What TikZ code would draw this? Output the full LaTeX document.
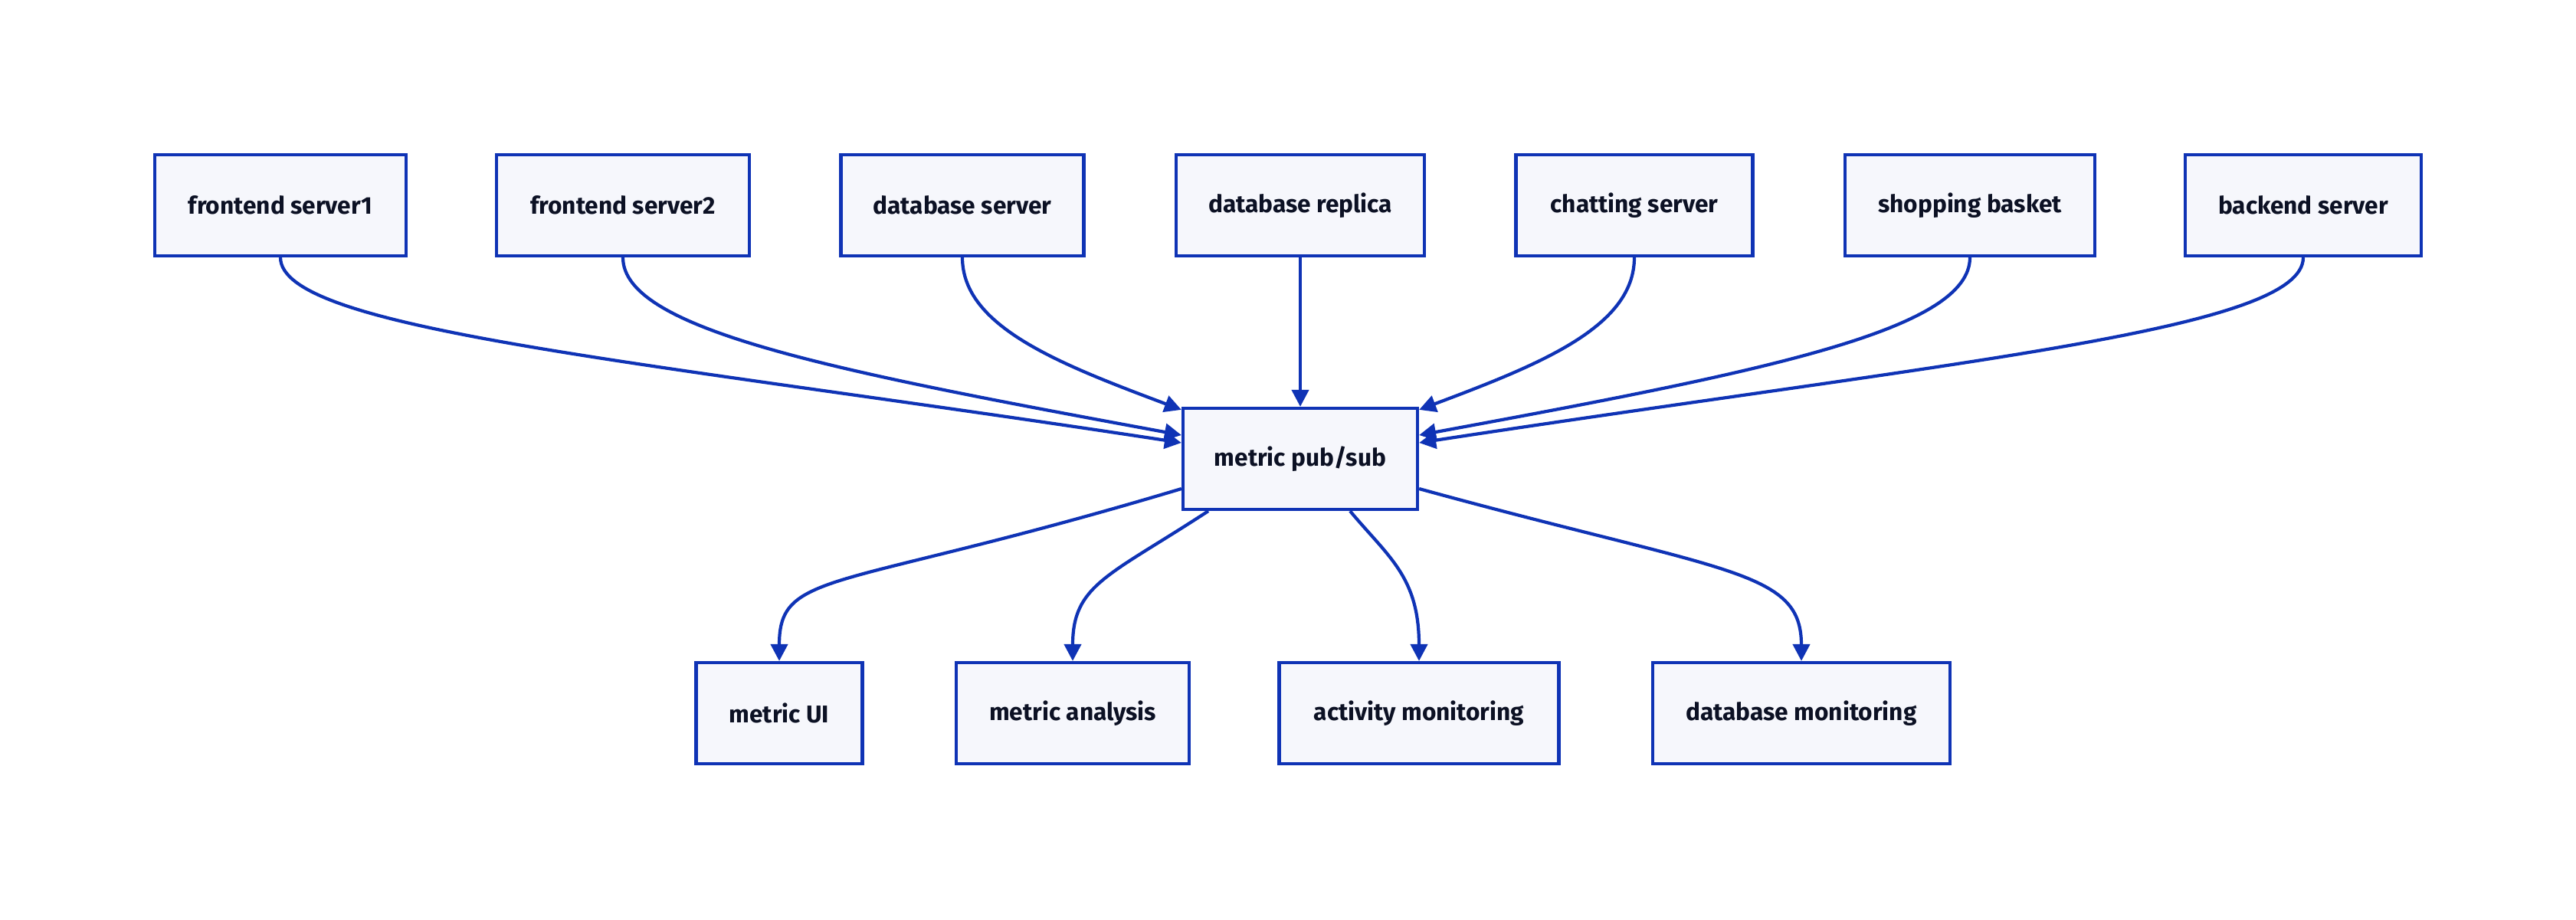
\documentclass[tikz,border=0pt]{standalone}
\usepackage{fontspec}
\setmainfont{Fira Sans}
\usetikzlibrary{arrows.meta}

\definecolor{edgeblue}{HTML}{0F33B5}
\definecolor{boxfill}{HTML}{F6F7FC}
\definecolor{textnavy}{HTML}{0C1124}

\tikzset{
  svcbox/.style={draw=edgeblue, fill=boxfill, line width=1.2pt,
    minimum height=1.32cm, text=textnavy,
    font=\fontsize{9}{11}\selectfont\bfseries},
  flow/.style={draw=edgeblue, line width=1.2pt,
    -{Triangle[length=0.22cm, width=0.22cm]}}
}

\begin{document}
\begin{tikzpicture}
    \useasboundingbox (0,0) rectangle (33.62,-12);

    % sources
    \node[svcbox, minimum width=3.28cm] (fs1) at (3.66,-2.68) {frontend server1};
    \node[svcbox, minimum width=3.30cm] (fs2) at (8.13,-2.68) {frontend server2};
    \node[svcbox, minimum width=3.17cm] (dbs) at (12.56,-2.68) {database server};
    \node[svcbox, minimum width=3.24cm] (dbr) at (16.97,-2.68) {database replica};
    \node[svcbox, minimum width=3.09cm] (chat) at (21.33,-2.68) {chatting server};
    \node[svcbox, minimum width=3.26cm] (shop) at (25.71,-2.68) {shopping basket};
    \node[svcbox, minimum width=3.08cm] (back) at (30.06,-2.68) {backend server};

    % hub
    \node[svcbox, minimum width=3.06cm] (pubsub) at (16.97,-5.99) {metric pub/sub};

    % consumers
    \node[svcbox, minimum width=2.17cm] (ui) at (10.17,-9.31) {metric UI};
    \node[svcbox, minimum width=3.04cm] (ana) at (14.00,-9.31) {metric analysis};
    \node[svcbox, minimum width=3.65cm] (act) at (18.52,-9.31) {activity monitoring};
    \node[svcbox, minimum width=3.88cm] (dbm) at (23.51,-9.31) {database monitoring};

    \draw[flow] (fs1.south) .. controls +(0,-0.95) and +(-7,1.07) .. ([yshift=0.21cm]pubsub.west);
    \draw[flow] (fs2.south) .. controls +(0,-0.95) and +(-4.5,0.83) .. ([yshift=0.31cm]pubsub.west);
    \draw[flow] (dbs.south) .. controls +(0,-0.9) and +(-1.6,0.6) .. ([yshift=-0.04cm]pubsub.north west);
    \draw[flow] (dbr.south) -- (pubsub.north);
    \draw[flow] (chat.south) .. controls +(0,-0.9) and +(1.6,0.6) .. ([yshift=-0.04cm]pubsub.north east);
    \draw[flow] (shop.south) .. controls +(0,-0.95) and +(4.5,0.83) .. ([yshift=0.31cm]pubsub.east);
    \draw[flow] (back.south) .. controls +(0,-0.95) and +(7,1.07) .. ([yshift=0.21cm]pubsub.east);

    \draw[flow] ([yshift=-0.39cm]pubsub.west) .. controls +(-4.5,-1.35) and +(0,1.2) .. (ui.north);
    \draw[flow] ([xshift=-1.2cm]pubsub.south) .. controls +(-1.3,-0.85) and +(0,1.0) .. (ana.north);
    \draw[flow] ([xshift=0.65cm]pubsub.south) .. controls +(0.5,-0.6) and +(0,1.1) .. (act.north);
    \draw[flow] ([yshift=-0.39cm]pubsub.east) .. controls +(4.0,-1.1) and +(0,1.2) .. (dbm.north);
\end{tikzpicture}
\end{document}
